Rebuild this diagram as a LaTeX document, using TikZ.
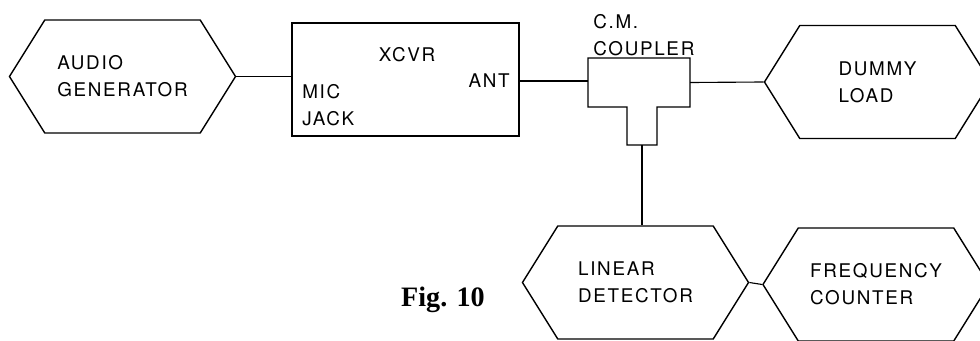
\documentclass[tikz,border=0pt]{standalone}
\usepackage{fontspec}
\setmainfont{TeX Gyre Heros}[LetterSpace=9]
\newfontfamily\figfont{Liberation Serif}
\usetikzlibrary{shapes.symbols}

\begin{document}
\begin{tikzpicture}[x=0.025cm, y=-0.025cm,
  font=\fontsize{13.4}{19.2}\selectfont,
  hexbox/.style={draw, line width=1pt, shape=signal, signal to=east and west,
    signal pointer angle=116, minimum width=5.65cm, minimum height=2.825cm,
    align=left, inner sep=0pt},
  wire/.style={line width=0.8pt},
  lbl/.style={align=left, inner sep=0pt}]
\clip (0,0) rectangle (980,341);

% Hexagon blocks
\node[hexbox] (gen) at (122.5,76.5) {AUDIO\\GENERATOR};
\node[hexbox] (load) at (877.5,82) {DUMMY\\LOAD};
\node[hexbox] (det) at (635.5,282.5) {LINEAR\\DETECTOR};
\node[hexbox] (cnt) at (876,284.5) {FREQUENCY\\COUNTER};

% Transceiver
\node[draw, line width=1pt, minimum width=5.675cm, minimum height=2.825cm] (xcvr) at (405.5,79.5) {};
\node[inner sep=0pt] (xcvrname) at (407,55) {XCVR};
\node[inner sep=0pt, anchor=east] (ant) at (510,81) {ANT};
\node[lbl, anchor=west] (mic) at (302,105) {MIC\\JACK};

% Coupler (T outline)
\node[minimum width=2.55cm, minimum height=1.225cm, inner sep=0pt, outer sep=0pt] (cpl) at (639,82.5) {};
\node[minimum width=0.75cm, minimum height=0.95cm, inner sep=0pt, outer sep=0pt] (stem) at (642,126) {};
\draw[line width=1pt] (cpl.north west) -- (cpl.north east) -- (cpl.south east)
  -- (stem.north east) -- (stem.south east) -- (stem.south west)
  -- (stem.north west) -- (cpl.south west) -- cycle;
\node[lbl, anchor=west] (cpllabel) at (593,35) {C.M.\\COUPLER};

% Wiring
\draw[wire] (gen.east) -- (gen.east -| xcvr.west);
\draw[wire] (xcvr.east |- ant) -- (ant -| cpl.west);
\draw[wire] (cpl.east) -- (load.west);
\draw[wire] (stem.south) -- (stem.south |- det.north);
\draw[wire] (det.east) -- (cnt.west);

% Caption
\node[font={\figfont\bfseries\fontsize{20}{24}\selectfont}] (caption) at (443,300) {Fig. 10};
\end{tikzpicture}
\end{document}
